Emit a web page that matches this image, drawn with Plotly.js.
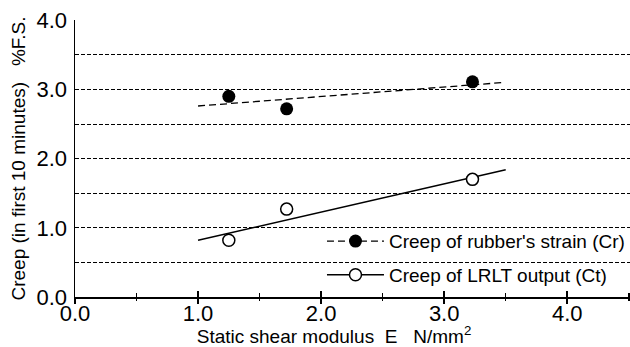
<!DOCTYPE html>
<html><head><meta charset="utf-8">
<script src="https://cdn.plot.ly/plotly-3.0.1.min.js"></script>
<style>html,body{margin:0;padding:0;background:#fff}#chart{width:630px;height:347px}</style>
</head><body><div id="chart"></div>
<script>
const shearModulus = [1.25, 1.72, 3.23];
const creepRubber = [2.90, 2.72, 3.11];
const creepLRLT = [0.82, 1.27, 1.70];
const fitXRubber = [1.0, 3.48];
const fitRubber = [2.76, 3.10];
const fitXLRLT = [1.0, 3.5];
const fitLRLT = [0.82, 1.84];
const xTickVals = [0, 1, 2, 3, 4];
const yTickVals = [0, 1, 2, 3, 4];
const legendNames = ["Creep of rubber's strain (Cr)", "Creep of LRLT output (Ct)"];

const FONT = 'Liberation Sans, Arial, sans-serif';
const fitDash = '7px,4px';
const gridDash = '4px,2px';

const traces = [
  {x: fitXRubber, y: fitRubber, mode: 'lines', line: {color: '#000', width: 1.3, dash: fitDash}, showlegend: false, hoverinfo: 'skip'},
  {x: fitXLRLT, y: fitLRLT, mode: 'lines', line: {color: '#000', width: 1.5}, showlegend: false, hoverinfo: 'skip'},
  {x: shearModulus, y: creepRubber, mode: 'markers', marker: {color: '#000', size: 13, line: {width: 0}}, showlegend: false},
  {x: shearModulus, y: creepLRLT, mode: 'markers', marker: {color: '#fff', size: 12, line: {color: '#000', width: 1.5}}, showlegend: false},
  {x: [null], y: [null], name: legendNames[0], mode: 'lines+markers', legendgroup: 'a',
   line: {color: '#000', width: 1.3, dash: fitDash}, marker: {color: '#000', size: 13, line: {width: 0}}},
  {x: [null], y: [null], name: legendNames[1], mode: 'lines+markers', legendgroup: 'b',
   line: {color: '#000', width: 1.5}, marker: {color: '#fff', size: 12, line: {color: '#000', width: 1.5}}},
  {x: [null], y: [null], xaxis: 'x2', mode: 'markers', showlegend: false, hoverinfo: 'skip'}
];

const layout = {
  width: 630, height: 347,
  margin: {l: 75, r: 0, t: 20, b: 50},
  paper_bgcolor: '#fff', plot_bgcolor: '#fff',
  font: {family: FONT, color: '#000'},
  showlegend: true,
  legend: {x: 0.445, y: 0.27, xanchor: 'left', yanchor: 'top', bgcolor: 'rgba(0,0,0,0)',
           font: {size: 19, family: FONT}, itemwidth: 57, traceorder: 'grouped', tracegroupgap: 6},
  xaxis: {
    range: [0, 4.51], tickvals: xTickVals, tickformat: '.1f',
    ticks: 'inside', ticklen: 6, tickwidth: 1.5, tickcolor: '#000',
    minor: {dtick: 0.5, tick0: 0, ticks: 'inside', ticklen: 4, tickwidth: 1.5, tickcolor: '#000'},
    showline: true, linewidth: 1.5, linecolor: '#000', showgrid: false, zeroline: false,
    tickfont: {size: 22}, ticklabelstandoff: -4,
    title: {text: 'Static shear modulus\u00A0\u00A0E\u00A0\u00A0\u00A0N/mm<sup>2</sup>\u00A0\u00A0\u00A0\u00A0\u00A0\u00A0<span style="color:rgba(0,0,0,0)">.</span>', font: {size: 19}, standoff: 1}
  },
  xaxis2: {
    overlaying: 'x', anchor: 'y', range: [0, 4.51], tickvals: xTickVals,
    ticks: 'outside', ticklen: 6, tickwidth: 1.5, tickcolor: '#000',
    minor: {dtick: 0.5, tick0: 0, ticks: 'outside', ticklen: 3, tickwidth: 1.5, tickcolor: '#000'},
    showticklabels: false, showline: false, showgrid: false, zeroline: false
  },
  yaxis: {
    range: [0, 4.003], tickvals: yTickVals, tickformat: '.1f', ticks: '',
    showgrid: true, gridcolor: '#000', gridwidth: 1, griddash: gridDash,
    minor: {dtick: 0.5, tick0: 0, showgrid: true, gridcolor: '#000', gridwidth: 1, griddash: gridDash},
    showline: true, linewidth: 1.5, linecolor: '#000', zeroline: false,
    tickfont: {size: 22}, ticklabelstandoff: 2,
    title: {text: 'Creep (in first 10 minutes)\u00A0\u00A0\u00A0%F.S.', font: {size: 19}, standoff: 6}
  }
};

Plotly.newPlot('chart', traces, layout, {displayModeBar: false, staticPlot: true});
</script>
</body></html>
